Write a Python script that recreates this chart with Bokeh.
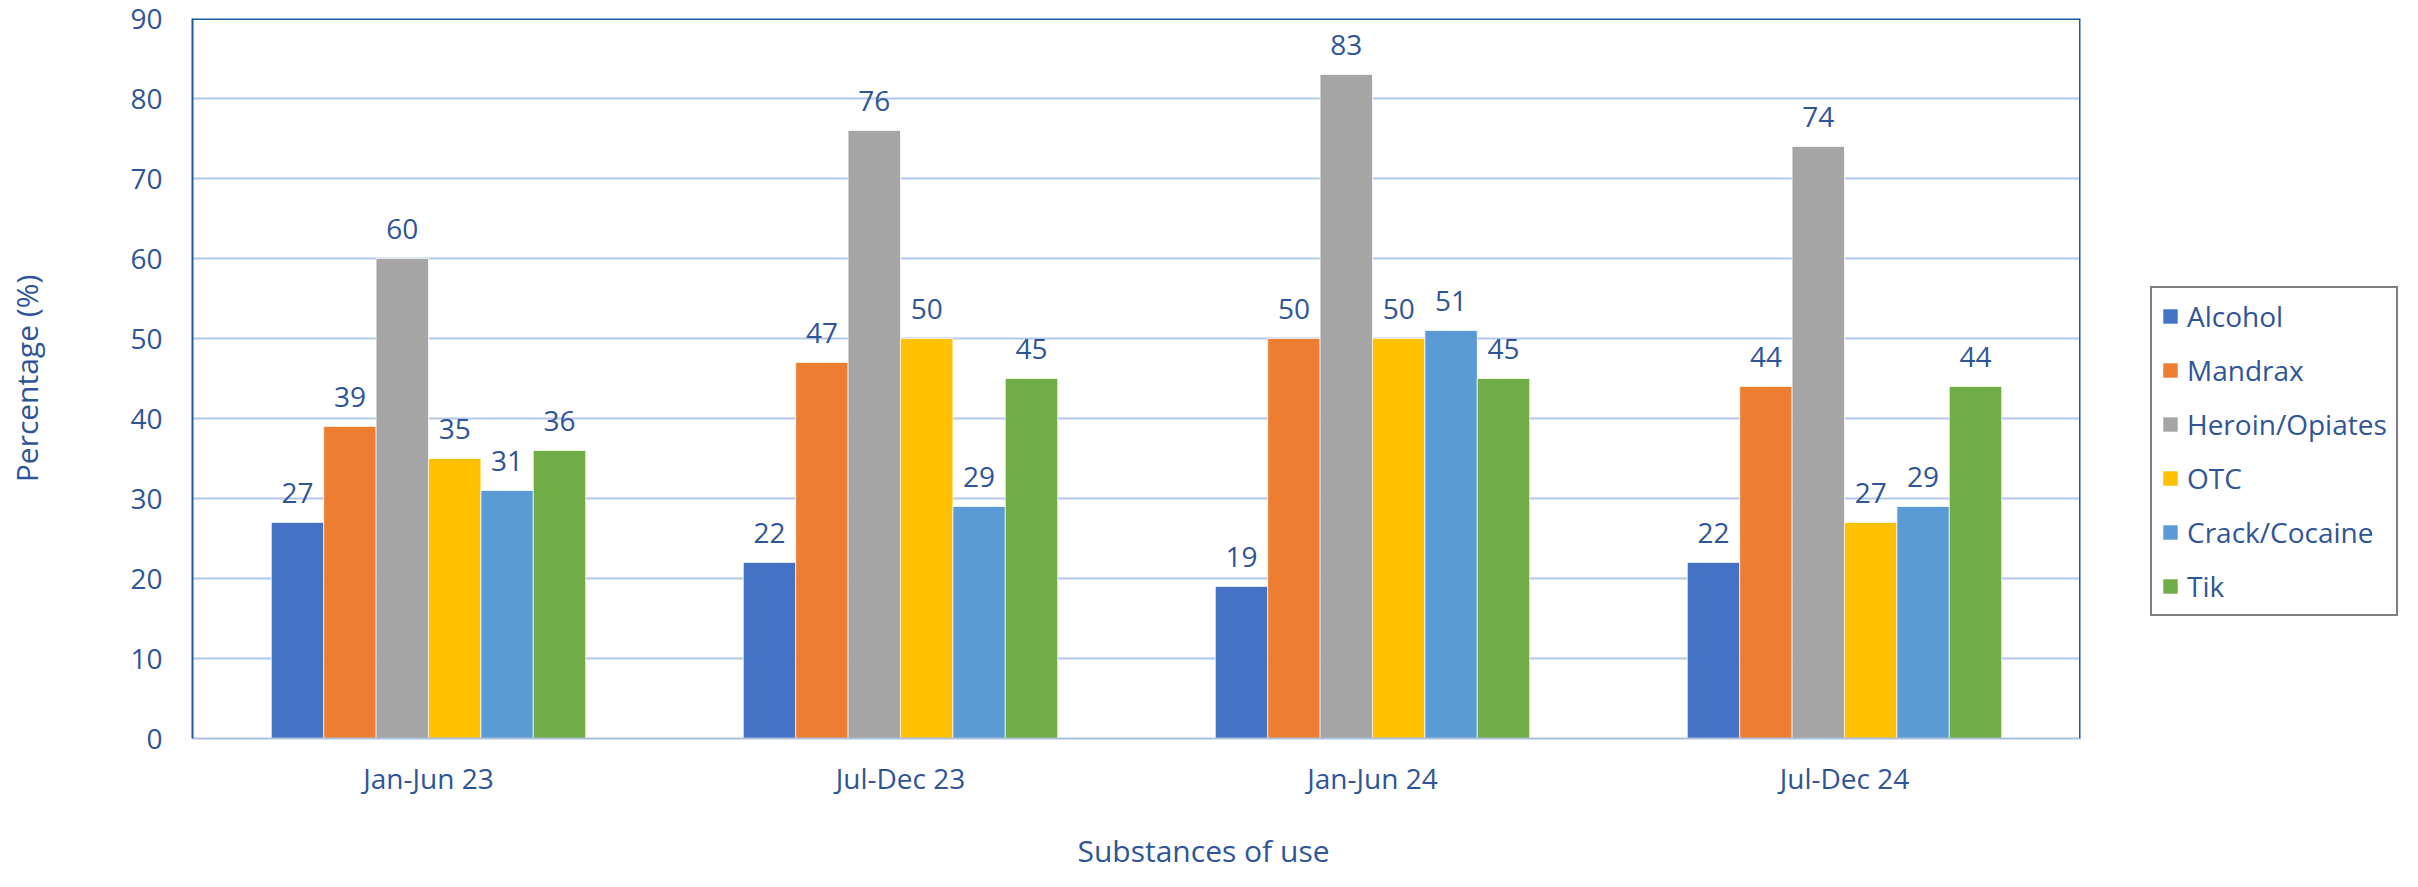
import math
from bokeh.plotting import figure
from bokeh.layouts import row
from bokeh.models import (ColumnDataSource, FactorRange, Range1d, FixedTicker, Span,
                          Legend, LegendItem, Title)
from bokeh.transform import dodge
from bokeh.core.properties import value
from bokeh.embed import file_html
from bokeh.resources import INLINE

periods = ["Jan-Jun 23", "Jul-Dec 23", "Jan-Jun 24", "Jul-Dec 24"]
series_names = ["Alcohol", "Mandrax", "Heroin/Opiates", "OTC", "Crack/Cocaine", "Tik"]
alcohol = [27, 22, 19, 22]
mandrax = [39, 47, 50, 44]
heroin = [60, 76, 83, 74]
otc = [35, 50, 50, 27]
crack = [31, 29, 51, 29]
tik = [36, 45, 45, 44]
colors = ["#4472C4", "#ED7D31", "#A5A5A5", "#FFC000", "#5B9BD5", "#70AD47"]
y_ticks = [0, 10, 20, 30, 40, 50, 60, 70, 80, 90]

series_values = [alcohol, mandrax, heroin, otc, crack, tik]

FONT = "Open Sans"
TXT = "#2F5597"
DARK = "#1C5C9E"
GRID = "#B4C7E7"

H = 871
MAIN_W = 2110
LEG_W = 292

p = figure(width=MAIN_W, height=H, output_backend="svg", toolbar_location=None,
           x_range=FactorRange(*periods, range_padding=0), y_range=Range1d(0, 90),
           min_border_left=192, min_border_right=30, min_border_top=18,
           min_border_bottom=133)
p.outline_line_color = None
p.background_fill_color = "white"
p.border_fill_color = "white"

data = {"period": periods}
for name, vals in zip(series_names, series_values):
    data[name] = vals
    data[name + "_lbl"] = [str(v) for v in vals]
src = ColumnDataSource(data)

bw = 0.111
for i, (name, col) in enumerate(zip(series_names, colors)):
    off = (i - 2.5) * bw
    p.vbar(x=dodge("period", off, range=p.x_range), top=name, width=bw, bottom=0,
           source=src, fill_color=col, line_color="white", line_alpha=0.7, line_width=1)
    p.text(x=dodge("period", off, range=p.x_range), y=name, text=name + "_lbl", source=src,
           text_align="center", text_baseline="middle", y_offset=-30,
           text_font=value(FONT), text_font_size="28px", text_color=TXT)

# axes
p.yaxis.ticker = FixedTicker(ticks=y_ticks)
p.yaxis.axis_line_color = DARK
p.yaxis.axis_line_width = 2
p.yaxis.major_tick_line_color = None
p.yaxis.minor_tick_line_color = None
p.yaxis.major_tick_out = 0
p.yaxis.major_label_standoff = 30
p.yaxis.major_label_text_font = FONT
p.yaxis.major_label_text_font_size = "28px"
p.yaxis.major_label_text_color = TXT
p.yaxis.axis_label = "Percentage (%)"
p.yaxis.axis_label_standoff = 80
p.yaxis.axis_label_text_font = FONT
p.yaxis.axis_label_text_font_size = "30px"
p.yaxis.axis_label_text_font_style = "normal"
p.yaxis.axis_label_text_color = TXT

p.xaxis.axis_line_color = "#ADC0DA"
p.xaxis.axis_line_width = 2
p.xaxis.major_tick_line_color = None
p.xaxis.minor_tick_line_color = None
p.xaxis.major_tick_out = 0
p.xaxis.major_label_standoff = 20
p.xaxis.major_label_text_font = FONT
p.xaxis.major_label_text_font_size = "28px"
p.xaxis.major_label_text_color = TXT

p.xgrid.grid_line_color = None
p.ygrid.grid_line_color = GRID
p.ygrid.grid_line_width = 2

# frame top & right borders
p.add_layout(Span(location=90, dimension="width", line_color=DARK, line_width=3))
p.add_layout(Span(location=len(periods), dimension="height", line_color=DARK, line_width=3))

# x axis title (top padding pushes it down toward the bottom edge)
p.add_layout(Title(text="Substances of use", align="left", offset=885, standoff=2,
                   vertical_align="bottom", padding=(0, 0, 27, 0),
                   text_font=FONT, text_font_size="30px", text_font_style="normal",
                   text_color=TXT), "below")

# legend in its own narrow figure to the right (frames are aligned by the row)
leg = figure(width=LEG_W, height=H, output_backend="svg", toolbar_location=None,
             x_axis_type=None, y_axis_type=None, min_border=0,
             x_range=Range1d(0, 1), y_range=Range1d(0, 1))
leg.outline_line_color = None
leg.grid.grid_line_color = None
leg.background_fill_color = "white"
leg.border_fill_color = "white"
items = []
for name, col in zip(series_names, colors):
    r = leg.vbar(x=0, top=name, width=0.1, source=src, fill_color=col, line_color=None,
                 visible=False)
    items.append(LegendItem(label=name, renderers=[r]))

legend = Legend(items=items, location=(40, 122), orientation="vertical",
                label_text_font=FONT, label_text_font_size="28px", label_text_color=TXT,
                glyph_width=18, glyph_height=18, label_standoff=8, spacing=16,
                padding=9, margin=0, border_line_color="black", border_line_width=2,
                background_fill_color="white", background_fill_alpha=1.0,
                click_policy="none")
leg.add_layout(legend, "center")

layout = row(p, leg, spacing=0)
open("out.html", "w").write(file_html(layout, INLINE))
